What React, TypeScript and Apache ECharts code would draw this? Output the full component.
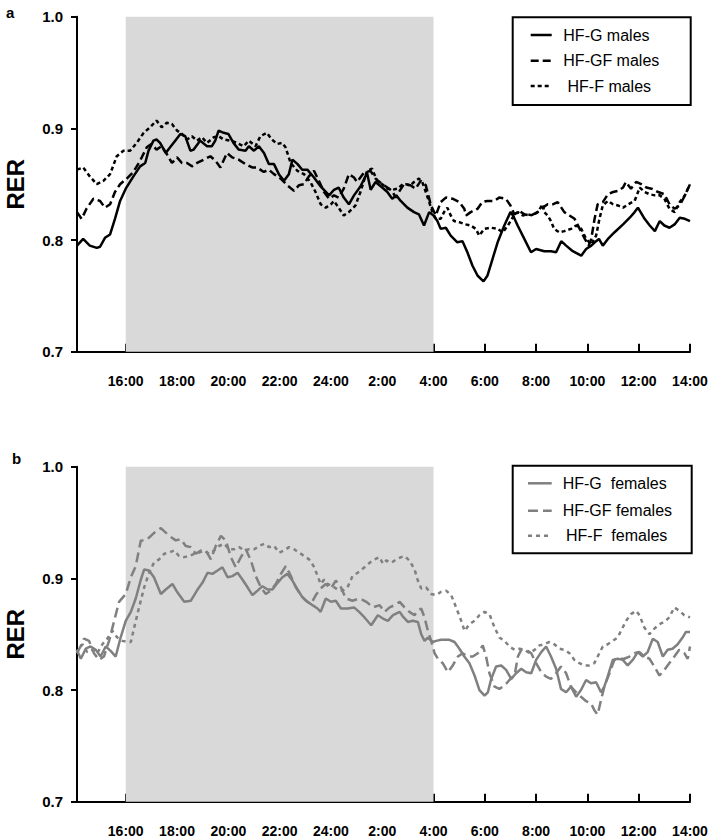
import React, { useEffect, useRef } from "react";
import * as echarts from "echarts";

// time in hours (16 = 16:00, 28 = 4:00 next day, 38 = 14:00 next day), RER value
const maleG: [number, number][] = [
  [14.1,0.795],[14.34,0.801],[14.6,0.795],[14.87,0.793],[15.0,0.794],[15.19,0.802],[15.39,0.805],[15.58,0.819],[15.78,0.835],[16.0,0.846],
  [16.3,0.857],[16.56,0.866],[16.76,0.869],[16.89,0.880],[17.08,0.889],[17.2,0.890],[17.34,0.887],[17.56,0.878],[17.73,0.883],[17.93,0.889],
  [18.13,0.895],[18.32,0.893],[18.52,0.880],[18.65,0.881],[18.9,0.889],[19.17,0.884],[19.36,0.884],[19.49,0.889],[19.62,0.898],[19.82,0.896],
  [20.0,0.895],[20.2,0.887],[20.4,0.881],[20.67,0.880],[20.8,0.884],[21.0,0.880],[21.19,0.884],[21.39,0.878],[21.58,0.868],[21.78,0.868],
  [21.97,0.859],[22.17,0.853],[22.36,0.859],[22.5,0.872],[22.7,0.868],[22.88,0.863],[23.08,0.863],[23.34,0.856],[23.6,0.848],[23.93,0.840],
  [24.12,0.845],[24.3,0.847],[24.5,0.838],[24.7,0.832],[24.9,0.840],[25.15,0.848],[25.41,0.860],[25.55,0.845],[25.74,0.852],[26.0,0.847],
  [26.2,0.843],[26.39,0.837],[26.55,0.840],[26.72,0.835],[26.98,0.829],[27.24,0.825],[27.43,0.823],[27.63,0.813],[27.83,0.825],[28.0,0.822],
  [28.15,0.817],[28.28,0.810],[28.48,0.811],[28.67,0.804],[28.93,0.798],[29.13,0.799],[29.32,0.789],[29.52,0.777],[29.72,0.768],[29.95,0.763],
  [30.1,0.768],[30.3,0.783],[30.5,0.798],[30.76,0.813],[31.0,0.825],[31.1,0.822],[31.28,0.813],[31.54,0.801],[31.8,0.789],[32.0,0.792],
  [32.32,0.790],[32.58,0.790],[32.78,0.789],[32.98,0.799],[33.17,0.795],[33.43,0.790],[33.76,0.786],[33.95,0.792],[34.15,0.795],[34.34,0.799],
  [34.45,0.801],[34.6,0.795],[34.8,0.801],[35.06,0.807],[35.39,0.814],[35.65,0.820],[35.84,0.825],[35.97,0.829],[36.23,0.819],[36.43,0.813],
  [36.63,0.808],[36.82,0.817],[37.0,0.813],[37.2,0.811],[37.4,0.814],[37.6,0.820],[37.8,0.819],[38.0,0.817],
];

const maleGF: [number, number][] = [
  [14.1,0.825],[14.28,0.819],[14.47,0.828],[14.74,0.837],[15.0,0.835],[15.19,0.829],[15.39,0.832],[15.58,0.843],[15.78,0.850],[16.04,0.855],
  [16.3,0.861],[16.56,0.871],[16.82,0.883],[17.0,0.886],[17.2,0.881],[17.4,0.884],[17.6,0.877],[17.8,0.869],[18.0,0.874],[18.19,0.869],
  [18.39,0.869],[18.58,0.866],[18.78,0.869],[19.04,0.872],[19.3,0.875],[19.5,0.871],[19.69,0.865],[19.95,0.878],[20.15,0.874],[20.4,0.872],
  [20.67,0.868],[20.93,0.865],[21.12,0.865],[21.38,0.861],[21.58,0.863],[21.78,0.859],[22.04,0.855],[22.3,0.849],[22.56,0.844],[22.75,0.849],
  [22.95,0.850],[23.14,0.857],[23.34,0.862],[23.53,0.853],[23.73,0.843],[23.93,0.837],[24.12,0.840],[24.3,0.838],[24.5,0.846],[24.7,0.859],
  [24.9,0.856],[25.02,0.852],[25.28,0.860],[25.54,0.862],[25.74,0.855],[26.0,0.850],[26.2,0.847],[26.39,0.844],[26.52,0.838],[26.65,0.843],
  [26.85,0.850],[27.1,0.849],[27.3,0.846],[27.5,0.853],[27.7,0.849],[27.9,0.831],[28.09,0.822],[28.28,0.834],[28.48,0.838],[28.74,0.837],
  [29.0,0.834],[29.2,0.828],[29.27,0.822],[29.45,0.825],[29.72,0.828],[29.9,0.834],[30.1,0.835],[30.37,0.835],[30.56,0.838],[30.82,0.837],
  [31.0,0.831],[31.15,0.823],[31.35,0.826],[31.54,0.823],[31.8,0.822],[32.06,0.825],[32.26,0.829],[32.45,0.832],[32.65,0.832],[32.84,0.834],
  [33.1,0.825],[33.3,0.822],[33.5,0.819],[33.7,0.810],[33.9,0.801],[34.05,0.795],[34.15,0.801],[34.28,0.819],[34.4,0.832],[34.6,0.834],
  [34.8,0.841],[35.0,0.843],[35.2,0.844],[35.39,0.847],[35.5,0.852],[35.7,0.846],[35.9,0.852],[36.1,0.850],[36.3,0.847],[36.5,0.846],
  [36.76,0.843],[37.0,0.841],[37.2,0.832],[37.4,0.828],[37.6,0.831],[37.8,0.840],[38.0,0.850],
];

const maleF: [number, number][] = [
  [14.1,0.863],[14.34,0.865],[14.6,0.857],[14.87,0.850],[15.13,0.853],[15.39,0.859],[15.65,0.875],[15.91,0.880],[16.17,0.880],[16.43,0.887],
  [16.7,0.896],[16.95,0.901],[17.2,0.907],[17.4,0.901],[17.6,0.905],[17.8,0.904],[18.0,0.898],[18.2,0.895],[18.39,0.890],[18.58,0.893],
  [18.78,0.889],[18.97,0.892],[19.17,0.887],[19.43,0.892],[19.62,0.893],[19.82,0.890],[20.08,0.889],[20.34,0.887],[20.6,0.884],[20.8,0.889],
  [21.06,0.884],[21.25,0.893],[21.5,0.896],[21.7,0.890],[21.9,0.886],[22.1,0.887],[22.23,0.883],[22.43,0.869],[22.69,0.862],[22.95,0.859],
  [23.2,0.852],[23.4,0.843],[23.6,0.832],[23.8,0.829],[24.0,0.832],[24.12,0.835],[24.3,0.829],[24.5,0.822],[24.7,0.825],[24.96,0.831],
  [25.15,0.843],[25.41,0.862],[25.6,0.864],[25.8,0.853],[26.0,0.850],[26.2,0.846],[26.39,0.845],[26.6,0.846],[26.8,0.850],[26.93,0.850],
  [27.1,0.849],[27.24,0.852],[27.43,0.855],[27.56,0.852],[27.7,0.843],[27.83,0.834],[27.96,0.825],[28.09,0.819],[28.28,0.819],[28.41,0.825],
  [28.54,0.829],[28.67,0.822],[28.8,0.817],[29.0,0.816],[29.26,0.814],[29.45,0.813],[29.65,0.810],[29.78,0.804],[29.98,0.810],[30.24,0.811],
  [30.5,0.810],[30.7,0.807],[30.9,0.813],[31.08,0.820],[31.28,0.825],[31.48,0.822],[31.67,0.823],[31.87,0.822],[32.06,0.825],[32.26,0.832],
  [32.32,0.825],[32.45,0.822],[32.58,0.817],[32.7,0.810],[32.9,0.807],[33.1,0.808],[33.36,0.810],[33.56,0.813],[33.76,0.810],[33.95,0.801],
  [34.15,0.796],[34.34,0.804],[34.47,0.819],[34.6,0.831],[34.8,0.835],[35.0,0.832],[35.19,0.831],[35.39,0.829],[35.59,0.832],[35.84,0.835],
  [36.04,0.847],[36.23,0.843],[36.43,0.841],[36.63,0.840],[36.82,0.840],[37.0,0.837],[37.2,0.828],[37.4,0.825],[37.6,0.834],[37.8,0.840],[38.0,0.850],
];

const femaleG: [number, number][] = [
  [14.09,0.836],[14.25,0.828],[14.44,0.837],[14.63,0.839],[14.83,0.836],[15.02,0.830],[15.22,0.839],[15.41,0.835],[15.61,0.830],[15.8,0.847],
  [16.0,0.862],[16.2,0.870],[16.39,0.882],[16.59,0.899],[16.72,0.908],[16.91,0.907],[17.1,0.901],[17.37,0.886],[17.56,0.890],[17.82,0.895],
  [18.0,0.888],[18.28,0.879],[18.54,0.880],[18.8,0.890],[18.99,0.896],[19.19,0.905],[19.38,0.904],[19.58,0.907],[19.77,0.910],[19.97,0.901],
  [20.16,0.902],[20.36,0.905],[20.55,0.899],[20.75,0.892],[20.94,0.885],[21.14,0.889],[21.33,0.893],[21.53,0.890],[21.72,0.890],[21.92,0.896],
  [22.11,0.901],[22.3,0.904],[22.5,0.898],[22.7,0.890],[22.89,0.883],[23.09,0.879],[23.28,0.876],[23.48,0.873],[23.6,0.870],[23.8,0.882],
  [24.0,0.879],[24.19,0.880],[24.39,0.873],[24.65,0.873],[24.9,0.874],[25.1,0.870],[25.31,0.865],[25.57,0.858],[25.83,0.867],[26.03,0.864],
  [26.22,0.862],[26.42,0.867],[26.68,0.870],[26.8,0.866],[27.0,0.861],[27.19,0.862],[27.39,0.861],[27.52,0.850],[27.65,0.844],[27.78,0.847],
  [27.97,0.843],[28.1,0.844],[28.3,0.845],[28.62,0.845],[28.82,0.843],[29.01,0.837],[29.2,0.830],[29.4,0.824],[29.6,0.813],[29.79,0.800],
  [29.99,0.795],[30.12,0.798],[30.25,0.810],[30.44,0.821],[30.64,0.822],[30.83,0.818],[31.03,0.810],[31.22,0.815],[31.42,0.819],[31.61,0.816],
  [31.81,0.815],[32.0,0.827],[32.2,0.834],[32.39,0.839],[32.58,0.830],[32.78,0.819],[32.97,0.801],[33.17,0.798],[33.36,0.803],[33.56,0.794],
  [33.75,0.800],[33.95,0.809],[34.14,0.806],[34.34,0.807],[34.53,0.798],[34.66,0.803],[34.79,0.812],[34.99,0.827],[35.18,0.828],[35.38,0.827],
  [35.57,0.822],[35.77,0.827],[35.96,0.834],[36.16,0.830],[36.35,0.834],[36.55,0.846],[36.74,0.843],[36.94,0.830],[37.13,0.836],[37.32,0.837],
  [37.52,0.841],[37.71,0.847],[37.84,0.852],[38.0,0.852],
];

const femaleGF: [number, number][] = [
  [14.09,0.833],[14.24,0.839],[14.37,0.846],[14.57,0.844],[14.76,0.833],[14.96,0.827],[15.15,0.830],[15.35,0.844],[15.55,0.862],[15.74,0.879],
  [16.0,0.886],[16.2,0.901],[16.39,0.911],[16.59,0.934],[16.78,0.934],[16.98,0.938],[17.17,0.942],[17.37,0.945],[17.56,0.941],[17.76,0.937],
  [17.95,0.934],[18.15,0.935],[18.34,0.929],[18.54,0.928],[18.73,0.922],[18.93,0.925],[19.12,0.925],[19.32,0.917],[19.51,0.929],[19.71,0.938],
  [19.9,0.934],[20.1,0.919],[20.29,0.910],[20.49,0.919],[20.68,0.926],[20.88,0.916],[21.07,0.902],[21.27,0.892],[21.46,0.886],[21.66,0.889],
  [21.85,0.895],[22.05,0.904],[22.24,0.911],[22.44,0.902],[22.63,0.892],[22.83,0.885],[23.02,0.880],[23.22,0.877],[23.41,0.885],[23.6,0.891],
  [23.8,0.895],[24.0,0.891],[24.19,0.898],[24.39,0.892],[24.58,0.882],[24.84,0.880],[25.12,0.882],[25.38,0.879],[25.64,0.874],[25.9,0.876],
  [26.09,0.870],[26.29,0.874],[26.48,0.876],[26.68,0.879],[26.87,0.874],[27.06,0.870],[27.26,0.867],[27.39,0.871],[27.52,0.873],[27.65,0.865],
  [27.78,0.853],[27.91,0.844],[28.04,0.833],[28.17,0.828],[28.36,0.824],[28.56,0.816],[28.75,0.822],[28.95,0.830],[29.14,0.833],[29.34,0.830],
  [29.53,0.830],[29.73,0.833],[29.92,0.840],[30.05,0.830],[30.18,0.815],[30.38,0.803],[30.57,0.801],[30.77,0.804],[30.96,0.809],[31.16,0.813],
  [31.29,0.830],[31.42,0.836],[31.61,0.836],[31.81,0.833],[32.0,0.824],[32.2,0.816],[32.39,0.812],[32.58,0.810],[32.78,0.815],[32.97,0.821],
  [33.17,0.815],[33.36,0.803],[33.56,0.798],[33.75,0.794],[33.95,0.790],[34.14,0.788],[34.27,0.782],[34.4,0.778],[34.53,0.791],[34.66,0.803],
  [34.86,0.815],[35.05,0.827],[35.25,0.828],[35.44,0.828],[35.64,0.830],[35.83,0.833],[36.03,0.834],[36.22,0.830],[36.42,0.828],[36.61,0.821],
  [36.81,0.813],[37.0,0.818],[37.19,0.824],[37.39,0.830],[37.58,0.836],[37.78,0.833],[37.91,0.828],[38.0,0.839],
];

const femaleF: [number, number][] = [
  [14.09,0.833],[14.31,0.841],[14.5,0.834],[14.7,0.836],[14.89,0.833],[15.09,0.841],[15.28,0.846],[15.48,0.853],[15.67,0.847],[15.87,0.844],
  [16.07,0.843],[16.2,0.843],[16.33,0.856],[16.52,0.874],[16.72,0.892],[16.91,0.905],[17.1,0.914],[17.3,0.917],[17.5,0.922],[17.69,0.923],
  [17.89,0.925],[18.08,0.920],[18.28,0.919],[18.47,0.920],[18.67,0.922],[18.86,0.923],[19.06,0.925],[19.25,0.922],[19.45,0.925],[19.64,0.929],
  [19.84,0.931],[20.03,0.926],[20.23,0.926],[20.42,0.928],[20.62,0.925],[20.81,0.926],[21.01,0.926],[21.2,0.929],[21.4,0.931],[21.59,0.928],
  [21.79,0.929],[21.98,0.923],[22.18,0.925],[22.37,0.928],[22.57,0.926],[22.76,0.923],[22.96,0.920],[23.15,0.917],[23.35,0.910],[23.48,0.902],
  [23.6,0.895],[23.74,0.899],[23.87,0.895],[24.06,0.893],[24.26,0.890],[24.45,0.889],[24.65,0.892],[24.84,0.902],[25.04,0.905],[25.31,0.910],
  [25.51,0.914],[25.7,0.917],[25.9,0.919],[26.03,0.913],[26.16,0.916],[26.35,0.914],[26.55,0.917],[26.74,0.919],[26.87,0.920],[27.06,0.916],
  [27.26,0.908],[27.39,0.898],[27.52,0.891],[27.71,0.892],[27.91,0.886],[28.1,0.885],[28.3,0.888],[28.49,0.889],[28.69,0.885],[28.88,0.874],
  [29.08,0.862],[29.21,0.853],[29.4,0.859],[29.6,0.862],[29.79,0.867],[29.99,0.870],[30.18,0.868],[30.38,0.856],[30.57,0.847],[30.77,0.844],
  [30.96,0.839],[31.16,0.836],[31.35,0.837],[31.55,0.836],[31.74,0.833],[31.94,0.836],[32.13,0.840],[32.32,0.841],[32.52,0.843],[32.71,0.841],
  [32.91,0.837],[33.1,0.836],[33.3,0.833],[33.49,0.827],[33.69,0.824],[33.88,0.822],[34.08,0.822],[34.27,0.824],[34.4,0.830],[34.6,0.839],
  [34.79,0.841],[34.99,0.844],[35.18,0.847],[35.31,0.853],[35.51,0.862],[35.7,0.868],[35.9,0.871],[36.03,0.867],[36.22,0.856],[36.42,0.850],
  [36.61,0.855],[36.81,0.859],[37.0,0.861],[37.19,0.865],[37.39,0.874],[37.58,0.871],[37.78,0.867],[38.0,0.865],
];

const tickHours = [16, 18, 20, 22, 24, 26, 28, 30, 32, 34, 36, 38];
const darkStart = 16;
const darkEnd = 28;
const maleNames = ["HF-G males", "HF-GF males", "HF-F males"];
const femaleNames = ["HF-G  females", "HF-GF females", "HF-F  females"];

const FONT = "'Liberation Sans', Arial, Helvetica, sans-serif";

function hourLabel(v: number): string {
  const h = v > 24 ? v - 24 : v;
  return `${Math.round(h)}:00`;
}

export default function App() {
  const ref = useRef<HTMLDivElement>(null);
  useEffect(() => {
    document.body.style.margin = "0";
    if (!ref.current) return;
    const chart = echarts.init(ref.current, undefined, { renderer: "svg" });

    const grids = [
      { left: 77, top: 16.7, width: 613, height: 335, outerBoundsMode: "none", containLabel: false },
      { left: 77, top: 466.7, width: 613, height: 335, outerBoundsMode: "none", containLabel: false },
    ];

    const xAxis = [0, 1].map((i) => ({
      type: "value",
      gridIndex: i,
      min: 14.1,
      max: 38,
      axisLine: { show: true, lineStyle: { color: "#000", width: 2 } },
      axisTick: {
        show: true,
        inside: true,
        length: 8,
        customValues: tickHours,
        lineStyle: { color: "#000", width: 2 },
      },
      axisLabel: {
        customValues: tickHours,
        formatter: (v: number) => hourLabel(v),
        fontFamily: FONT,
        fontWeight: "bold",
        fontSize: 14,
        lineHeight: 14,
        color: "#000",
        margin: 22,
      },
      splitLine: { show: false },
    }));

    const yAxis = [0, 1].map((i) => ({
      type: "value",
      gridIndex: i,
      min: 0.7,
      max: 1.0,
      interval: 0.1,
      name: "RER",
      nameLocation: "middle",
      nameGap: 49.5,
      nameTextStyle: { fontFamily: FONT, fontWeight: "bold", fontSize: 24, color: "#000" },
      axisLine: { show: true, lineStyle: { color: "#000", width: 2 } },
      axisTick: { show: true, inside: false, length: 6, lineStyle: { color: "#000", width: 2 } },
      axisLabel: {
        formatter: (v: number) => v.toFixed(1),
        fontFamily: FONT,
        fontWeight: "bold",
        fontSize: 15,
        color: "#000",
        margin: 14,
      },
      splitLine: { show: false },
    }));

    const black = "#000000";
    const gray = "#808080";
    const mk = (name: string, data: [number, number][], idx: number, color: string, type: any, area: boolean) => ({
      name,
      type: "line",
      xAxisIndex: idx,
      yAxisIndex: idx,
      data,
      symbol: "none",
      lineStyle: { color, width: 2.5, type },
      z: 3,
      markArea: area
        ? {
            silent: true,
            itemStyle: { color: "#d9d9d9" },
            data: [[{ coord: [darkStart, 1.0] }, { coord: [darkEnd, 0.7] }]],
            z: 1,
          }
        : undefined,
    });

    const series = [
      mk(maleNames[0], maleG, 0, black, "solid", true),
      mk(maleNames[1], maleGF, 0, black, [8, 4], false),
      mk(maleNames[2], maleF, 0, black, [4, 3], false),
      mk(femaleNames[0], femaleG, 1, gray, "solid", true),
      mk(femaleNames[1], femaleGF, 1, gray, [10, 5], false),
      mk(femaleNames[2], femaleF, 1, gray, [4, 4], false),
    ];

    const legendBox = (x: number, y: number, w: number, h: number, rows: number[], lx1: number, lx2: number, tx: number[], names: string[], color: string, dashes: any[]) => {
      const children: any[] = [
        { type: "rect", shape: { x, y, width: w, height: h }, style: { fill: "#fff", stroke: "#000", lineWidth: 2 } },
      ];
      rows.forEach((ry, i) => {
        children.push({
          type: "line",
          shape: { x1: lx1, y1: ry, x2: lx2, y2: ry },
          style: { stroke: color, lineWidth: 2.5, lineDash: dashes[i] },
        });
        children.push({
          type: "text",
          style: { x: tx[i], y: ry, text: names[i], font: `16px ${FONT}`, fill: "#000", textAlign: "left", textVerticalAlign: "middle", verticalAlign: "middle" },
        });
      });
      return { type: "group", children, z: 10 };
    };

    const option: any = {
      animation: false,
      backgroundColor: "#fff",
      grid: grids,
      xAxis,
      yAxis,
      series,
      graphic: [
        { type: "text", style: { x: 6, y: 12, text: "a", font: `bold 15px ${FONT}`, fill: "#000", verticalAlign: "middle" } },
        { type: "text", style: { x: 12, y: 458, text: "b", font: `bold 15px ${FONT}`, fill: "#000", verticalAlign: "middle" } },
        legendBox(512.7, 17.3, 178, 87.7, [35, 60.7, 86], 530.7, 551.7, [563.3, 563.3, 567.5], maleNames, black, [null, [8, 4], [4, 3]]),
        legendBox(512.7, 465.7, 179, 87.6, [483.3, 510.7, 535.7], 528, 551.7, [562.7, 562.7, 566], femaleNames, gray, [null, [10, 5], [4, 4]]),
      ],
    };
    chart.setOption(option);
    return () => chart.dispose();
  }, []);
  return <div ref={ref} style={{ width: 709, height: 839 }} />;
}
